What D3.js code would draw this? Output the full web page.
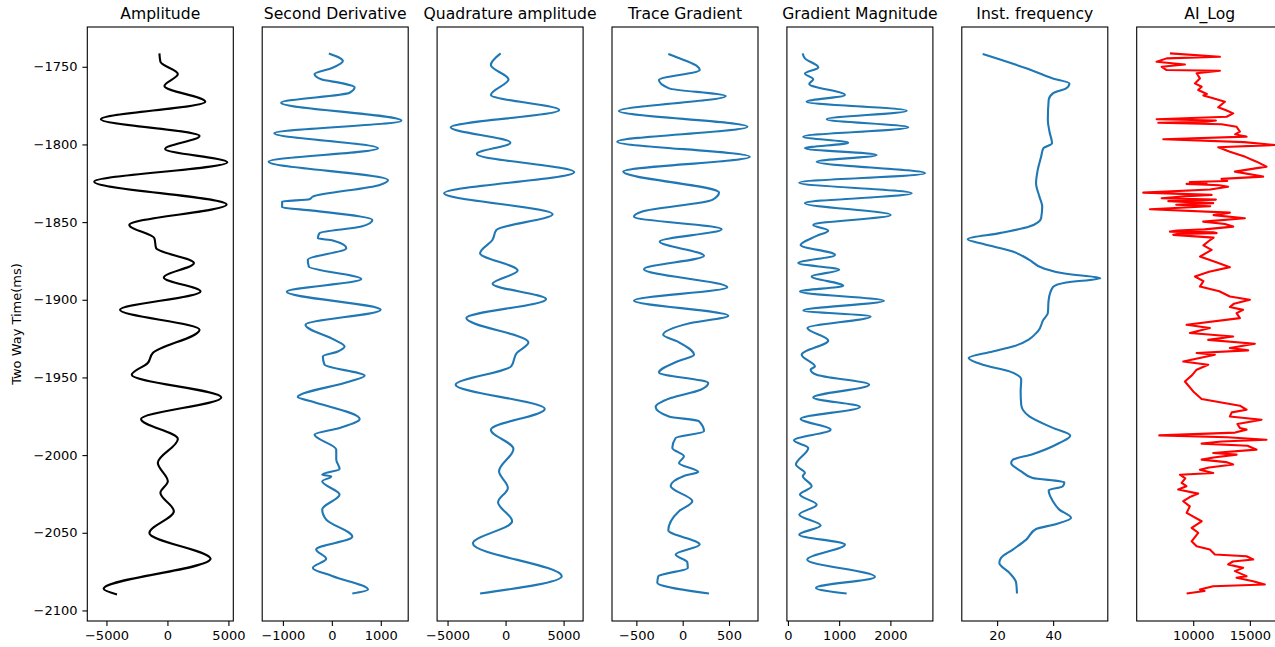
<!DOCTYPE html>
<meta charset="utf-8">
<style>
body { margin: 0; background: #fff; }
text { font-family: "DejaVu Sans", sans-serif; fill: #000; }
</style>
<svg width="1275" height="647"></svg>
<script src="https://d3js.org/d3.v7.min.js"></script>
<script>

// ---- data (time in ms, value) ----
var ampTime = [-1741.4, -1746.8, -1754.7, -1762.4, -1772.5, -1783.8, -1794.6, -1802.9, -1811.5, -1824, -1838.7, -1851.8, -1860.4, -1866.8, -1876.4, -1885.7, -1894.7, -1906.5, -1919.3, -1934.3, -1940.7, -1948.3, -1962.9, -1976.8, -1989.6, -2005, -2016.9, -2024.3, -2036.2, -2050.1, -2066.8, -2086.1, -2089.7];
var ampValue = [-658, -576, 855, -247, 3100, -5453, 2632, -189, 4910, -6003, 4852, -3125, -1069, -929, 2171, -296, 2714, -3890, 2632, -1200, -1612, -2928, 4416, -2163, 855, -789, 33, -576, 526, -1480, 3536, -5231, -4137];

var secTime = [-1741.4, -1746.3, -1751, -1754.7, -1758.1, -1760.7, -1763.2, -1766.7, -1773.1, -1784.7, -1792.8, -1802.5, -1811.1, -1822.9, -1826.1, -1833.6, -1835.3, -1836.8, -1840.4, -1842.6, -1848.6, -1852.9, -1857.1, -1860.4, -1861.9, -1866.8, -1874.3, -1878.6, -1886.7, -1894.9, -1906.5, -1916.1, -1925.8, -1930.1, -1933.3, -1936.5, -1941.8, -1948.9, -1952.6, -1962.6, -1965.4, -1976.8, -1982.5, -1986.8, -1996.5, -2002.9, -2008.9, -2012.6, -2013.7, -2016.9, -2025.4, -2035, -2041.5, -2052.6, -2060.8, -2066.8, -2072.6, -2078, -2086.5, -2089.1];
var secValue = [-61, 225, -12, -354, -217, 225, 465, 363, -1037, 1420, -1174, 943, -1291, 1148, 977, -389, -457, -1016, -1016, -389, 828, 602, -252, -287, 20, 295, -492, -471, 602, -922, 998, -539, 55, 260, 123, -184, -150, 670, 363, -697, -422, 568, 158, -354, 90, 90, 158, -197, -12, -197, 158, -197, -115, 418, -320, -115, -389, 20, 738, 418];

var quadTime = [-1741.4, -1748.9, -1758.1, -1768.2, -1777.8, -1789, -1798.9, -1806.1, -1817.9, -1831.4, -1844.9, -1855, -1861.4, -1870, -1881.2, -1889.7, -1899.6, -1911.8, -1927.5, -1934.3, -1942.9, -1954.7, -1970.3, -1983.6, -1996, -2010.4, -2021.1, -2030.4, -2042.6, -2056.9, -2078, -2089.1];
var quadValue = [-422, -1267, 253, -1267, 4620, -4730, 422, -2475, 5912, -5295, 4054, -786, -1123, -2196, 1039, -1123, 3488, -3378, 1968, 954, 481, -4307, 3378, -1267, 676, -563, 197, -647, 563, -2815, 4841, -2196];

var gradTime = [-1741.8, -1744, -1749, -1752.1, -1758.6, -1763.9, -1768.8, -1778.5, -1788.6, -1798.2, -1807.9, -1817.5, -1831, -1835.7, -1843.2, -1846.5, -1854.6, -1862.5, -1871.7, -1880.3, -1891.9, -1900.5, -1910.3, -1915, -1922.5, -1926.8, -1935.4, -1939.7, -1946.8, -1953.6, -1957.9, -1963.3, -1969, -1975.1, -1978.2, -1984.7, -1989, -1995.4, -2000.8, -2005.1, -2010.8, -2013.4, -2019.9, -2029.7, -2036.1, -2048.4, -2057.6, -2064, -2069, -2072.6, -2078, -2082.2, -2089.1];
var gradValue = [-155, -58, 140, 184, -256, -148, 464, -688, 698, -706, 724, -642, 392, 320, -436, -526, 421, -248, 230, -418, 482, -526, 492, 86, -210, -58, 122, -58, -256, 276, 194, -130, -292, -148, 176, 230, -76, -112, 14, -40, 168, 14, -130, 104, -40, -155, 184, -76, 50, 55, -263, -274, 284];

var magTime = [-1741.4, -1744.6, -1750.4, -1754.3, -1758.1, -1761.1, -1768.2, -1772.5, -1778.3, -1783.8, -1789, -1795, -1798.9, -1802.5, -1806.8, -1811.1, -1818.6, -1824.6, -1831.4, -1837.8, -1845.4, -1851.8, -1855.5, -1858.9, -1864.7, -1871.1, -1876.4, -1880.7, -1885, -1891, -1894.7, -1900.7, -1906.9, -1910.8, -1918.2, -1926.2, -1935.4, -1942.9, -1945, -1948.3, -1954.7, -1962.9, -1969, -1976.6, -1983.6, -1990.5, -1995.4, -2006.1, -2011.5, -2013.5, -2020.1, -2025.4, -2031.9, -2038.3, -2045.4, -2051.2, -2057.6, -2067.3, -2078.4, -2085.5, -2089.1];
var magValue = [287, 332, 592, 332, 494, 416, 1113, 365, 2318, 756, 2350, 299, 1178, 332, 1732, 561, 2676, 221, 2416, 332, 2006, 494, 787, 561, 248, 918, 201, 1002, 463, 1080, 234, 1875, 299, 1615, 380, 787, 268, 527, 443, 561, 1588, 494, 1406, 248, 834, 117, 397, 156, 332, 290, 463, 234, 561, 221, 639, 221, 1113, 377, 1699, 547, 1146];

var freqTime = [-1741.8, -1751, -1757.5, -1760.7, -1763.9, -1767.1, -1771.4, -1784.3, -1791.8, -1799.3, -1802.5, -1807.9, -1816.4, -1825, -1833.6, -1840, -1847.5, -1852.9, -1857.1, -1861, -1864, -1869, -1874.3, -1879.6, -1883.3, -1886.1, -1888.9, -1891.9, -1900, -1908.6, -1912.9, -1920.4, -1930.1, -1933.3, -1937.5, -1941.8, -1946.1, -1951.5, -1959, -1967.6, -1975.1, -1982.5, -1987.5, -1992.2, -1999.7, -2003, -2005.1, -2010.4, -2014.7, -2017.5, -2020.1, -2022.7, -2029.7, -2035.1, -2040.4, -2044.4, -2047.6, -2054.4, -2060.8, -2066.2, -2069.4, -2075.8, -2082.2, -2089.1];
var freqValue = [14.86, 30.4, 39.9, 45.8, 44.6, 39.9, 38.4, 38.1, 38.7, 39.6, 36.5, 35.7, 34.5, 33.9, 35.1, 36.1, 35.7, 31.5, 20.8, 9.5, 14.86, 25.6, 31.5, 36.3, 44.6, 56.8, 44.6, 39.9, 38.4, 38.1, 36.5, 34.5, 25.6, 18.4, 9.86, 14.86, 24.4, 28.6, 28.4, 28.6, 31.5, 39.9, 46.1, 42.2, 32.1, 25.6, 25, 28.6, 32.7, 44, 43.4, 38.4, 39.9, 42.2, 46.4, 41.1, 33.9, 30.4, 25.6, 21.4, 20.8, 24.4, 26.8, 27.1];

var aiTime = [-1741.4, -1743.6, -1744.6, -1746.8, -1748.5, -1750, -1752.1, -1752.6, -1754.2, -1757.5, -1760.7, -1762.9, -1765, -1767.5, -1768.5, -1770.3, -1772.5, -1776.1, -1778, -1780, -1782.2, -1783.8, -1784.6, -1785.4, -1786, -1787, -1788.6, -1791.8, -1793.5, -1795, -1796.7, -1798.5, -1800.4, -1801.8, -1804.7, -1808, -1811.1, -1814.3, -1817.5, -1820.7, -1822.2, -1823.5, -1824.2, -1825, -1825.4, -1826.3, -1827.2, -1829, -1831, -1832.5, -1833.3, -1834.6, -1835.5, -1836.5, -1837.8, -1838.8, -1839.8, -1841.7, -1843.9, -1845.5, -1847.5, -1849.7, -1851.2, -1852.9, -1854.7, -1855.4, -1856.1, -1856.6, -1857.1, -1857.6, -1858.2, -1860, -1862.5, -1865, -1867.9, -1872.2, -1876, -1879, -1882, -1885, -1888, -1891.5, -1894.5, -1897.9, -1900, -1902.5, -1904.7, -1906.5, -1908.6, -1911.8, -1916.1, -1918.2, -1921.4, -1923.6, -1925.8, -1928.3, -1931.1, -1932.6, -1934.3, -1935.4, -1939.7, -1941.8, -1945, -1948.5, -1952.6, -1959, -1963.9, -1968.2, -1970.8, -1972.5, -1975.1, -1977.2, -1980, -1982.5, -1983.6, -1985.5, -1987.3, -1988.5, -1990.1, -1991.2, -1992.6, -1994, -1996.5, -1998.6, -1999.7, -2001.5, -2002.9, -2004.5, -2006.1, -2008, -2009.4, -2011.5, -2012.6, -2015, -2017.9, -2020, -2022.2, -2024.8, -2027, -2029.7, -2033, -2037.2, -2042.6, -2046.8, -2050, -2055.5, -2058.7, -2060.8, -2064, -2065.1, -2067.2, -2068.5, -2070.4, -2072.6, -2074.7, -2077.9, -2079, -2081.2, -2083.3, -2084.4, -2086.5, -2087.5, -2089.1];
var aiValue = [7945, 12354, 7654, 6773, 9268, 7213, 7654, 12354, 10300, 10591, 10150, 10741, 10441, 11200, 10900, 11764, 12795, 12205, 12900, 13527, 12946, 6773, 12000, 11182, 6914, 12500, 13827, 14118, 13700, 14709, 7354, 14500, 17204, 12205, 13236, 14600, 15591, 16473, 13677, 16173, 12500, 13000, 9700, 11182, 9418, 12300, 13086, 11500, 5591, 11623, 9500, 7213, 12000, 7800, 11764, 8500, 11500, 6182, 13236, 11800, 14559, 10882, 12800, 13527, 11000, 8600, 7945, 11800, 12064, 8700, 8236, 11800, 11323, 10900, 11623, 10591, 12100, 13236, 11400, 10150, 10900, 10591, 12300, 13236, 15000, 13600, 13236, 14400, 13827, 14118, 9418, 11473, 9709, 13527, 11323, 15441, 13236, 14850, 10300, 11914, 9118, 11323, 10300, 9900, 9268, 10000, 10741, 14118, 14709, 13400, 13236, 16032, 13900, 14118, 14709, 13700, 7002, 13000, 16473, 12500, 10741, 14800, 15591, 11764, 13827, 11800, 10741, 12900, 13527, 11400, 10591, 11764, 8827, 9300, 8977, 9400, 8677, 10441, 9700, 9118, 9700, 9418, 10741, 9859, 10441, 9859, 10300, 11473, 11914, 14709, 15291, 13500, 13086, 14409, 13677, 14709, 13827, 15291, 16323, 11764, 10591, 11000, 9418];

var titles = ["Amplitude", "Second Derivative", "Quadrature amplitude", "Trace Gradient", "Gradient Magnitude", "Inst. frequency", "AI_Log"];
var xLimits = [[-6570, 5400], [-1423, 1560], [-5900, 6680], [-763, 813], [-20, 2830], [7.4, 59.5], [5010, 17900]];
var xTicks = [[-5000, 0, 5000], [-1000, 0, 1000], [-5000, 0, 5000], [-500, 0, 500], [0, 1000, 2000], [20, 40], [10000, 15000]];
var timeLimits = [-2106.8, -1724.4];
var timeTicks = [-1750, -1800, -1850, -1900, -1950, -2000, -2050, -2100];

var times = [ampTime, secTime, quadTime, gradTime, magTime, freqTime, aiTime];
var values = [ampValue, secValue, quadValue, gradValue, magValue, freqValue, aiValue];
var colors = ["#000000", "#1f77b4", "#1f77b4", "#1f77b4", "#1f77b4", "#1f77b4", "#ff0000"];

// ---- layout ----
var svg = d3.select("svg");
var plotTop = 27, plotBottom = 621;
var firstLeft = 87.3, panelStep = 174.9, panelW = 146;

var y = d3.scaleLinear().domain(timeLimits).range([plotBottom, plotTop]);
var fmt = d3.format("d");

titles.forEach(function(title, i) {
  var g = svg.append("g")
      .attr("transform", "translate(" + (firstLeft + i * panelStep) + ",0)");

  var x = d3.scaleLinear().domain(xLimits[i]).range([0, panelW]);

  var pts = times[i].map(function(t, k) { return [t, values[i][k]]; });

  // the log is drawn straight, the attributes smoothly
  var line = d3.line()
      .x(function(d) { return x(d[1]); })
      .y(function(d) { return y(d[0]); })
      .curve(i == 6 ? d3.curveLinear : d3.curveMonotoneY);

  g.append("path")
      .datum(pts)
      .attr("d", line)
      .attr("fill", "none")
      .attr("stroke", colors[i])
      .attr("stroke-width", 2.1)
      .attr("stroke-linejoin", "round");

  var xAxis = g.append("g")
      .attr("transform", "translate(0," + plotBottom + ")")
      .call(d3.axisBottom(x).tickValues(xTicks[i]).tickSize(4.9).tickPadding(4.9).tickFormat(fmt));
  xAxis.select(".domain").remove();
  xAxis.selectAll("line").attr("stroke-width", 1.1);
  xAxis.selectAll("text")
      .attr("font-size", 13)
      .attr("font-family", "DejaVu Sans, sans-serif");

  if (i == 0) {
    var yAxis = g.append("g")
        .call(d3.axisLeft(y).tickValues(timeTicks).tickSize(4.9).tickPadding(4.9).tickFormat(fmt));
    yAxis.select(".domain").remove();
    yAxis.selectAll("line").attr("stroke-width", 1.1);
    yAxis.selectAll("text")
        .attr("font-size", 13)
        .attr("font-family", "DejaVu Sans, sans-serif");
  }

  g.append("rect")
      .attr("x", 0)
      .attr("y", plotTop)
      .attr("width", panelW)
      .attr("height", plotBottom - plotTop)
      .attr("fill", "none")
      .attr("stroke", "#000")
      .attr("stroke-width", 1.1);

  g.append("text")
      .attr("x", panelW / 2)
      .attr("y", 18.7)
      .attr("text-anchor", "middle")
      .attr("font-size", 15.6)
      .text(title);
});

svg.append("text")
    .attr("transform", "translate(21,324) rotate(-90)")
    .attr("text-anchor", "middle")
    .attr("font-size", 13)
    .text("Two Way Time(ms)");

</script>
